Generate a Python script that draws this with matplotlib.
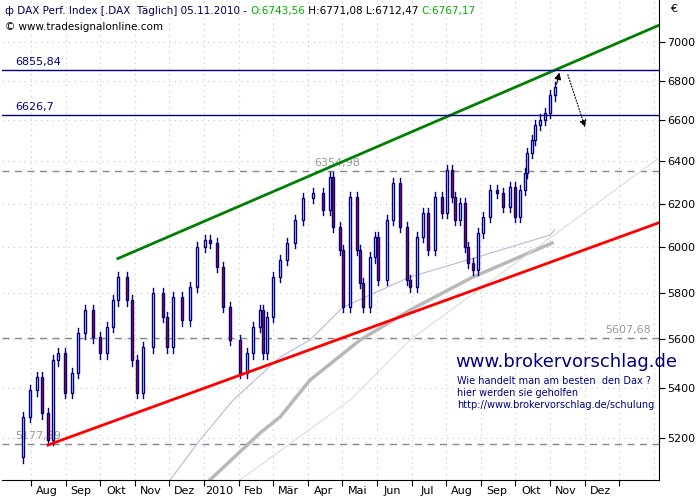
import numpy as np
import matplotlib.pyplot as plt
from matplotlib.ticker import FixedLocator, NullFormatter, NullLocator

# x = Monate seit 1. Aug 2009, Schlusskurse
x_close = [-0.40, -0.23, -0.03, 0.17, 0.32, 0.49, 0.64, 0.78, 0.98, 1.18,
           1.36, 1.56, 1.79, 1.99, 2.20, 2.37, 2.51, 2.77, 2.92, 3.06,
           3.24, 3.53, 3.82, 3.93, 4.10, 4.36, 4.60, 4.80, 5.03, 5.17,
           5.38, 5.55, 5.75, 6.04, 6.24, 6.42, 6.62, 6.71, 6.82, 6.99,
           7.20, 7.40, 7.63, 7.86, 8.15, 8.44, 8.64, 8.73, 8.93, 9.02,
           9.22, 9.42, 9.51, 9.60, 9.80, 9.94, 10.03, 10.29, 10.46, 10.66,
           10.87, 10.95, 11.16, 11.33, 11.47, 11.68, 11.88, 12.02, 12.17, 12.25,
           12.40, 12.54, 12.63, 12.77, 12.92, 13.06, 13.27, 13.47, 13.64, 13.84,
           13.99, 14.13, 14.28, 14.34, 14.48, 14.57, 14.71, 14.86, 15.00, 15.14]
close = [5126, 5283, 5390, 5443, 5298, 5192, 5513, 5542, 5379, 5460,
         5626, 5724, 5609, 5542, 5652, 5767, 5868, 5767, 5513, 5379,
         5567, 5798, 5694, 5567, 5781, 5681, 5824, 6002, 6033, 6020,
         5912, 5737, 5597, 5460, 5542, 5652, 5724, 5542, 5694, 5868,
         5943, 6020, 6124, 6226, 6250, 6171, 6325, 6092, 5988, 5737,
         6231, 5988, 5842, 5737, 5956, 6047, 5855, 6124, 6296, 6092,
         5855, 5824, 6047, 6157, 5988, 6231, 6157, 6359, 6231, 6124,
         6203, 6002, 5930, 5899, 6065, 6138, 6264, 6250, 6184, 6277,
         6138, 6264, 6345, 6441, 6504, 6577, 6604, 6636, 6726, 6767]

# Gleitende Durchschnitte
ma1_x = [4.02, 4.88, 5.84, 7.20, 8.06, 9.02, 10.95, 12.89, 15.00, 15.14]
ma1_y = [5039, 5192, 5350, 5526, 5597, 5737, 5868, 5956, 6056, 6080]
ma2_x = [5.17, 6.62, 7.20, 8.06, 9.51, 10.95, 12.77, 15.06]
ma2_y = [5039, 5220, 5283, 5431, 5597, 5724, 5868, 6020]
ma3_x = [6.04, 9.22, 10.95, 15.58, 18.18]
ma3_y = [5039, 5350, 5597, 6110, 6421]

# Trendlinien und Marken
green_x = [2.51, 18.18]
green_y = [5950, 7091]
red_x = [0.49, 18.18]
red_y = [5173, 6114]
res_levels = [6855.84, 6626.7]
res_labels = ['6855,84', '6626,7']
gray_levels = [6354.98, 5607.68, 5177.59]
gray_labels = ['6354,98', '5607,68', '5177,59']
gray_label_x = [8.2, 16.6, -0.45]

months = ['Aug', 'Sep', 'Okt', 'Nov', 'Dez', '2010', 'Feb', 'Mär', 'Apr', 'Mai',
          'Jun', 'Jul', 'Aug', 'Sep', 'Okt', 'Nov', 'Dez']
yticks = [5200, 5400, 5600, 5800, 6000, 6200, 6400, 6600, 6800, 7000]

header = [('ф DAX Perf. Index [.DAX  Täglich] 05.11.2010 - ', '#000050'),
          ('O:6743,56', '#00b000'),
          (' H:6771,08 L:6712,47 ', 'black'),
          ('C:6767,17', '#00b000')]

navy = '#000080'
fig = plt.figure(figsize=(7, 5), dpi=100)
ax = fig.add_axes([2 / 700, 20 / 500, 657 / 700, 480 / 500])
ax.set_yscale('log')
ax.set_xlim(-0.838, 18.15)
ax.set_ylim(5039, 7224)

# Gitter
for v in range(0, 19):
    ax.axvline(v, color='#c8c8c8', lw=0.8, ls=(0, (1, 4)), zorder=0)
for v in yticks:
    ax.axhline(v, color='#c8c8c8', lw=0.8, ls=(0, (1, 4)), zorder=0)

# Kerzen
w = 0.06
for i in range(1, len(close)):
    o, c, xi = close[i - 1], close[i], x_close[i]
    lo, hi = min(o, c), max(o, c)
    ax.plot([xi, xi], [lo * 0.996, hi * 1.004], color=navy, lw=1, zorder=3)
    face = 'white' if c >= o else 'red'
    ax.add_patch(plt.Rectangle((xi - w / 2, lo), w, hi - lo, facecolor=face,
                               edgecolor=navy, lw=1, zorder=4))

ax.plot(ma1_x, ma1_y, color='#b8b8e0', lw=0.8, zorder=2)
ax.plot(ma2_x, ma2_y, color='#b8b8b8', lw=2.5, zorder=2)
ax.plot(ma3_x, ma3_y, color='#dcdcdc', lw=0.8, zorder=2)

ax.plot(green_x, green_y, color='#008000', lw=2, zorder=5)
ax.plot(red_x, red_y, color='#ff0000', lw=2, zorder=5)

for lvl, lab in zip(res_levels, res_labels):
    ax.axhline(lvl, color=navy, lw=1, zorder=5)
    ax.text(-0.45, lvl * 1.002, lab, color=navy, fontsize=8, va='bottom')
for lvl, lab, lx in zip(gray_levels, gray_labels, gray_label_x):
    ax.axhline(lvl, color='#888888', lw=1, ls=(0, (5, 4)), zorder=1)
    ax.text(lx, lvl * 1.002, lab, color='#999999', fontsize=8, va='bottom')

ax.annotate('', xy=(15.29, 6855), xytext=(15.17, 6767),
            arrowprops=dict(arrowstyle='-|>', color='black', lw=0.8), zorder=6)
ax.annotate('', xy=(16.04, 6553), xytext=(15.49, 6843),
            arrowprops=dict(arrowstyle='-|>', color='black', lw=0.8, ls=':'), zorder=6)

# Achsen
ax.yaxis.tick_right()
ax.yaxis.set_major_locator(FixedLocator(yticks))
ax.yaxis.set_minor_locator(NullLocator())
ax.set_yticklabels([str(v) for v in yticks], fontsize=8)
ax.yaxis.set_minor_formatter(NullFormatter())
ax.xaxis.set_major_locator(FixedLocator(range(0, 18)))
ax.xaxis.set_major_formatter(NullFormatter())
ax.xaxis.set_minor_locator(FixedLocator([i + 0.45 for i in range(17)]))
ax.set_xticklabels(months, minor=True, fontsize=8)
ax.tick_params(axis='x', which='minor', length=0, pad=4)
ax.tick_params(axis='x', which='major', length=4, direction='out')
ax.tick_params(axis='y', length=4, direction='out', pad=2)
for s in ['top', 'left']:
    ax.spines[s].set_visible(False)
fig.text(670 / 700, 1 - 12 / 500, '€', fontsize=8)

# Kopfzeile, Teile nacheinander
prev = fig.text(5 / 700, 1 - 11 / 500, header[0][0], fontsize=7.5, va='center', color=header[0][1])
for txt, col in header[1:]:
    prev = fig.text(0, 0.5, txt, fontsize=7.5, va='center', color=col,
                    transform=__import__('matplotlib').transforms.offset_copy(
                        prev.get_transform(), fig=fig, x=0, y=0))
    prev.set_visible(True)
fig.canvas.draw()
texts = fig.texts[-4:]
x0 = 5
for t in texts:
    t.set_transform(fig.transFigure)
    t.set_position((x0 / 700, 1 - 11 / 500))
    fig.canvas.draw()
    x0 = t.get_window_extent().x1
fig.text(5 / 700, 1 - 27 / 500, '© www.tradesignalonline.com', fontsize=7.5, va='center')

# Werbung
fig.text(455 / 700, 1 - 362 / 500, 'www.brokervorschlag.de', fontsize=13, color=navy, va='center')
fig.text(457 / 700, 1 - 381 / 500, 'Wie handelt man am besten  den Dax ?', fontsize=7, color=navy, va='center')
fig.text(457 / 700, 1 - 393 / 500, 'hier werden sie geholfen', fontsize=7, color=navy, va='center')
fig.text(457 / 700, 1 - 405 / 500, 'http://www.brokervorschlag.de/schulung', fontsize=7, color=navy, va='center')

fig.savefig('out.png', dpi=100)
